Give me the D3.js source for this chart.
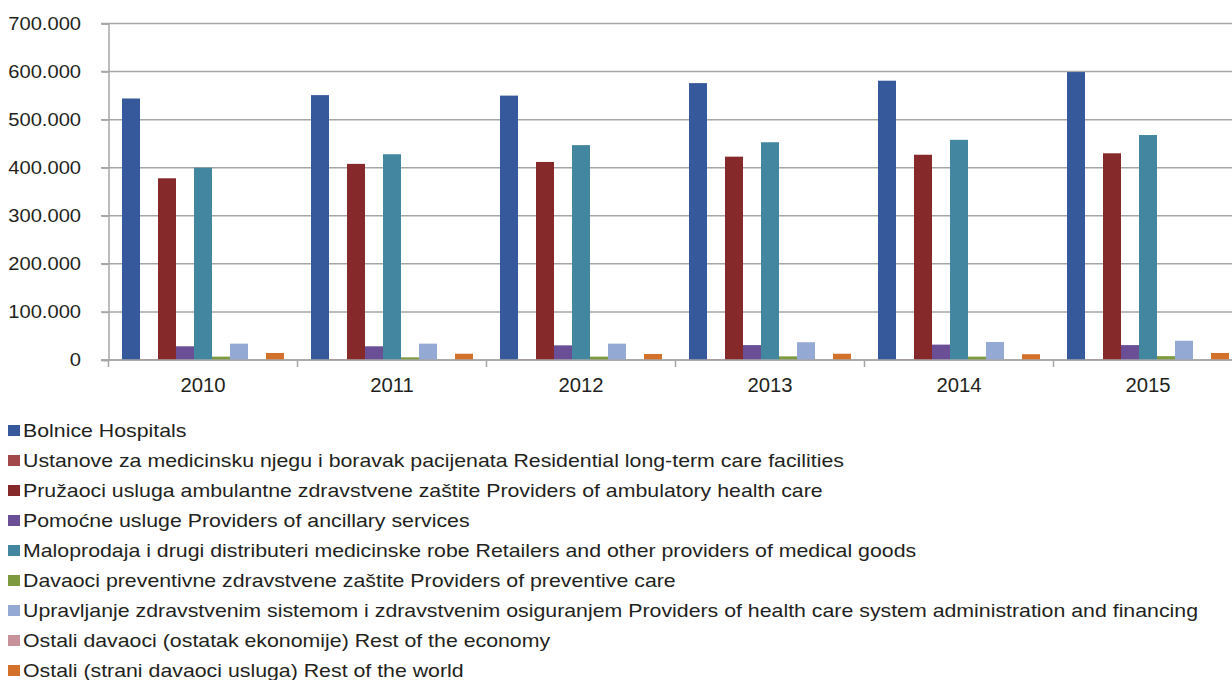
<!DOCTYPE html>
<html>
<head>
<meta charset="utf-8">
<script src="https://cdn.jsdelivr.net/npm/d3@7"></script>
<style>
body { margin:0; background:#fff; }
text { font-family:"Liberation Sans", Arial, sans-serif; fill:#231f20; }
</style>
</head>
<body>
<div id="main"></div>
<script>
const years = ["2010","2011","2012","2013","2014","2015"]
const seriesNames = [
    "Bolnice Hospitals",
    "Ustanove za medicinsku njegu i boravak pacijenata Residential long-term care facilities",
    "Pružaoci usluga ambulantne zdravstvene zaštite Providers of ambulatory health care",
    "Pomoćne usluge Providers of ancillary services",
    "Maloprodaja i drugi distributeri medicinske robe Retailers and other providers of medical goods",
    "Davaoci preventivne zdravstvene zaštite Providers of preventive care",
    "Upravljanje zdravstvenim sistemom i zdravstvenim osiguranjem Providers of health care system administration and financing",
    "Ostali davaoci (ostatak ekonomije) Rest of the economy",
    "Ostali (strani davaoci usluga) Rest of the world"
]
const seriesColors = ["#35599a","#a2484a","#86292a","#6a4f96","#4386a0","#7d9a3c","#95a9d5","#c8929b","#d3702a"]

// one array per series, values per year 2010..2015
const hospitals   = [544000, 551000, 550000, 576000, 581000, 599000]
const residential = [1000, 1000, 1000, 1000, 1000, 1000]
const ambulatory  = [378000, 408000, 412000, 423000, 427000, 430000]
const ancillary   = [28500, 28500, 30500, 31000, 32000, 31000]
const retailers   = [400000, 428000, 447000, 453000, 458000, 468000]
const preventive  = [7000, 5500, 7000, 7500, 7000, 8000]
const administration = [34000, 34000, 34000, 37000, 37500, 40000]
const restEconomy = [500, 500, 500, 500, 500, 500]
const restWorld   = [14600, 13000, 12500, 13000, 12000, 14600]

const yTicks = [0,100000,200000,300000,400000,500000,600000,700000]

const allSeries = [hospitals, residential, ambulatory, ancillary, retailers, preventive, administration, restEconomy, restWorld]

function initViz()
{
    let svg = d3.select("#main").append("svg").attr("width",1232).attr("height",680)

    let x0 = d3.scaleBand().domain(years).range([108.5,1242.5]).padding(0)
    let x1 = d3.scaleBand().domain(d3.range(9)).range([13.5, 189-13.5]).padding(0)
    let y = d3.scaleLinear().domain([0,700000]).range([360,23.5])

    let fmt = d => d==0 ? "0" : d3.format(",")(d).replace(/,/g,".")

    // grid lines
    svg.append("g").selectAll("line")
    .data(yTicks)
    .enter()
    .append("line")
    .attr("x1",101).attr("x2",1232)
    .attr("y1",d=>y(d)).attr("y2",d=>y(d))
    .attr("stroke","#a6a6a6")
    .attr("stroke-width",1.5)

    // y axis
    let yAxis = svg.append("g").attr("transform","translate(108.5,0)")
    .call(d3.axisLeft(y).tickValues(yTicks).tickFormat(fmt).tickSize(7))
    yAxis.select(".domain").attr("stroke","#a6a6a6").attr("stroke-width",1.5)
    yAxis.selectAll(".tick line").attr("stroke","#a6a6a6").attr("stroke-width",1.5)
    yAxis.selectAll(".tick text")
    .attr("x", -27.5/1.15)
    .attr("transform","scale(1.15,1)")
    .style("font-size","17.5px").attr("fill","#231f20")
    .style("font-family","'Liberation Sans', Arial, sans-serif")

    // bars
    let groups = svg.append("g").selectAll("g")
    .data(years)
    .enter()
    .append("g")
    .attr("transform", d => "translate(" + x0(d) + ",0)")

    groups.selectAll("rect")
    .data((yr,i) => allSeries.map((s,k) => ({k:k, v:s[i]})))
    .enter()
    .append("rect")
    .attr("x", d => x1(d.k))
    .attr("width", x1.bandwidth())
    .attr("y", d => y(d.v))
    .attr("height", d => 360 - y(d.v))
    .attr("fill", d => seriesColors[d.k])

    // x axis
    let xAxis = svg.append("g").attr("transform","translate(0,360)")
    xAxis.append("line").attr("x1",101).attr("x2",1232).attr("y1",0).attr("y2",0)
    .attr("stroke","#a6a6a6").attr("stroke-width",1.5)
    xAxis.selectAll(".sep")
    .data(years)
    .enter()
    .append("line")
    .attr("x1", d => x0(d)).attr("x2", d => x0(d))
    .attr("y1",0).attr("y2",7)
    .attr("stroke","#a6a6a6").attr("stroke-width",1.5)
    xAxis.selectAll("text")
    .data(years)
    .enter()
    .append("text")
    .attr("transform", d => "translate(" + (x0(d) + x0.bandwidth()/2) + ",32) scale(1.04,1)")
    .attr("text-anchor","middle")
    .style("font-size","19.5px")
    .text(d => d)

    // legend
    let legend = svg.append("g").selectAll("g")
    .data(seriesNames)
    .enter()
    .append("g")
    .attr("transform", (d,i) => "translate(8," + (430 + i*30) + ")")

    legend.append("rect")
    .attr("x",0).attr("y",-5).attr("width",12).attr("height",11)
    .attr("fill", (d,i) => seriesColors[i])

    legend.append("text")
    .attr("transform","translate(15,7) scale(1.185,1)")
    .style("font-size","18px")
    .text(d => d)
}
initViz()
</script>
</body>
</html>
